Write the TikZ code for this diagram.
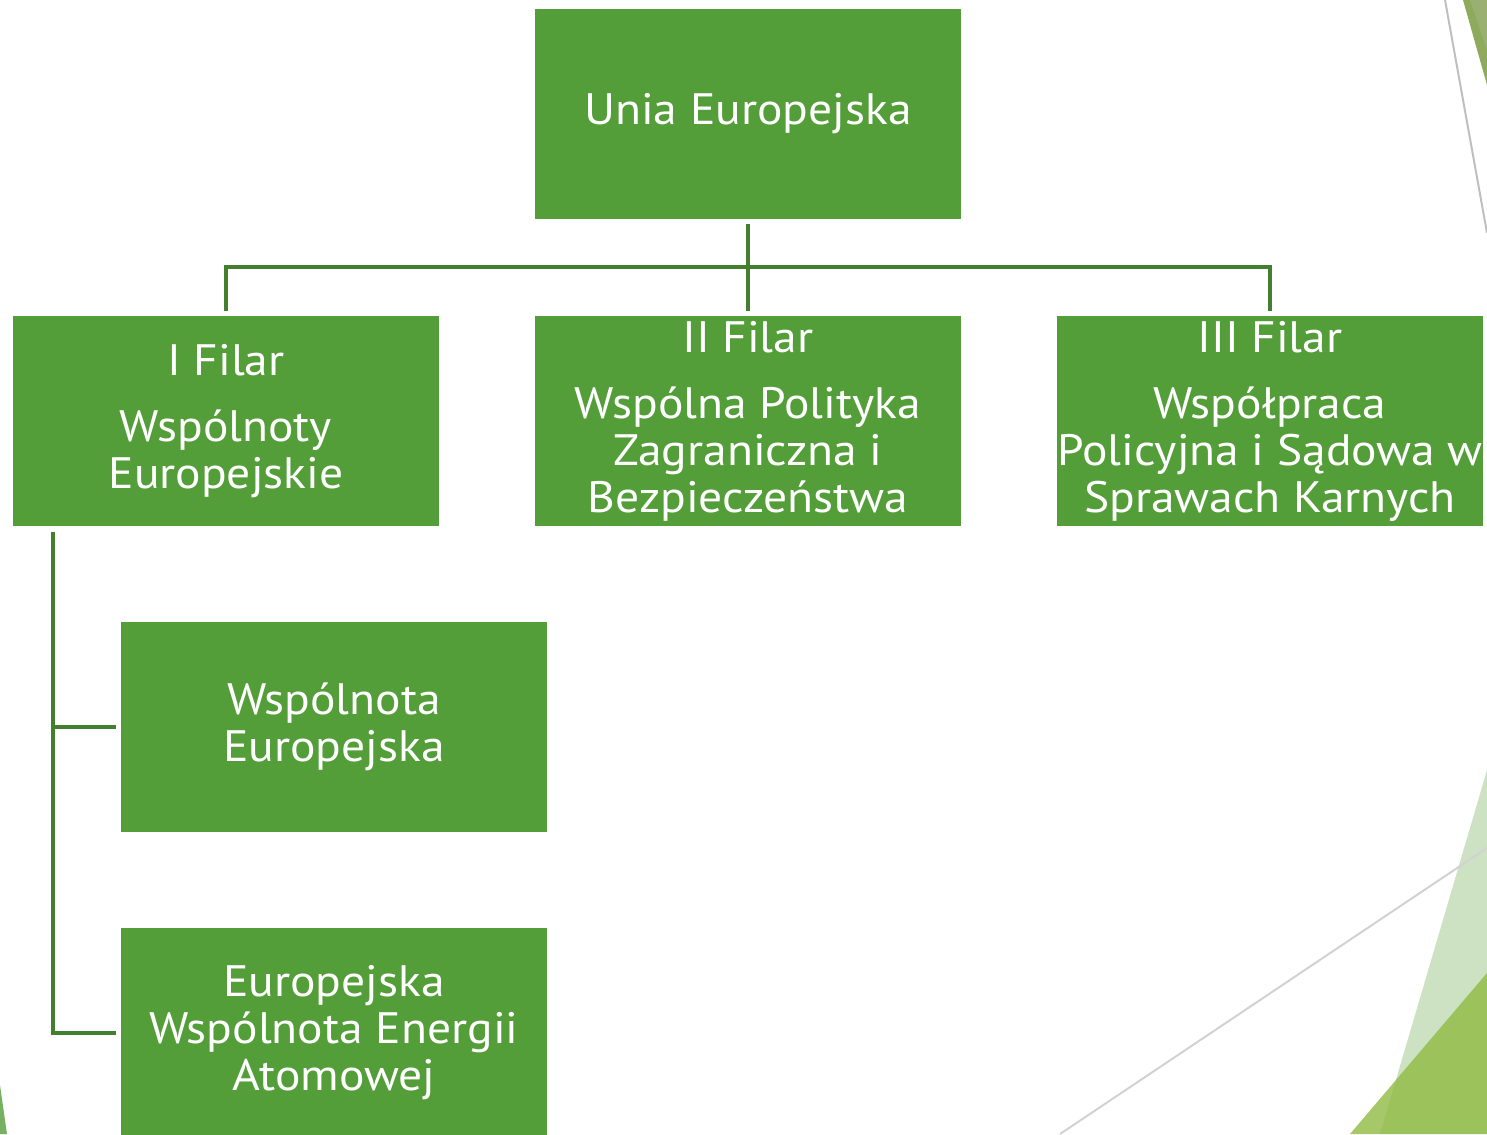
\documentclass[tikz,border=0pt]{standalone}
\usepackage{fontspec}
\setmainfont{PT Sans}[FakeStretch=1.08]
\definecolor{boxgreen}{HTML}{549E39}
\definecolor{linegreen}{HTML}{437F2F}
\definecolor{lightband}{HTML}{CDE2C2}
\definecolor{darktri}{HTML}{90BA42}
\definecolor{topgreen}{HTML}{8EAA5C}
\begin{document}
\begin{tikzpicture}[x=1pt,y=-1pt,
  gbox/.style={fill=boxgreen,draw=none,minimum width=426pt,minimum height=210pt,inner sep=0pt,
    text=white,align=center,font=\fontsize{44}{47}\selectfont},
  conn/.style={draw=linegreen,line width=4pt}]
\useasboundingbox (0,0) rectangle (1487,1134);
% decorations
\fill[lightband] (1487,770) -- (1380,1134) -- (1487,1134) -- cycle;
\fill[darktri,opacity=0.8] (1487,973) -- (1350,1134) -- (1487,1134) -- cycle;
\draw[gray!35,line width=2pt] (1060,1134) -- (1487,848);
\draw[gray!50,line width=2pt] (1445,0) -- (1487,233);
\fill[topgreen] (1463,0) -- (1487,0) -- (1487,85) -- cycle;
\fill[darktri!70!black!60,opacity=0.6] (1470,0) -- (1487,0) -- (1487,50) -- cycle;
\fill[boxgreen!80] (0,1085) -- (7,1134) -- (0,1134) -- cycle;
% boxes
\node[gbox] (ue) at (748,114) {Unia Europejska};
\node[gbox] (f1) at (226,421) {I Filar\\[19pt]Wspólnoty\\Europejskie};
\node[gbox] (f2) at (748,421) {II Filar\\[19pt]Wspólna Polityka\\Zagraniczna i\\Bezpieczeństwa};
\node[gbox] (f3) at (1270,421) {III Filar\\[19pt]Współpraca\\Policyjna i Sądowa w\\Sprawach Karnych};
\node[gbox] (we) at (334,727) {Wspólnota\\Europejska};
\node[gbox] (ea) at (334,1033) {Europejska\\Wspólnota Energii\\Atomowej};
% connectors
\coordinate (bus) at (748,267);
\draw[conn] ([yshift=-5pt]ue.south) -- ([yshift=5pt]f2.north);
\draw[conn] ([yshift=5pt]f1.north) |- (bus) -| ([yshift=5pt]f3.north);
\coordinate (lv) at (53,532);
\draw[conn] ([yshift=-6pt]f1.south west -| lv) |- ([xshift=-5pt]ea.west);
\draw[conn] (lv |- we.west) -- ([xshift=-5pt]we.west);
\end{tikzpicture}
\end{document}
